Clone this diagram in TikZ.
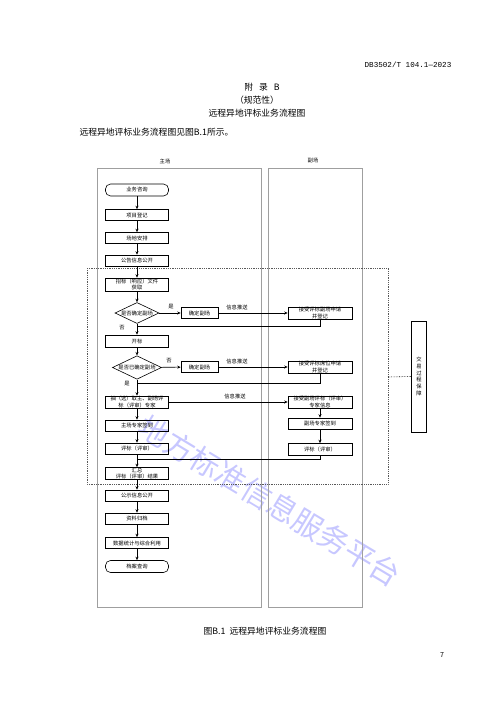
\documentclass[tikz,border=0pt]{standalone}
\usepackage{fontspec}
\newfontfamily\cjk{Noto Sans CJK SC}
\newfontfamily\codefont{Liberation Mono}
\usetikzlibrary{shapes.geometric,arrows.meta}

\newcommand{\boxfont}{\cjk\fontsize{5.3}{6.2}\selectfont}
\newcommand{\headfont}{\cjk\fontsize{8.8}{10}\selectfont}

\begin{document}
\begin{tikzpicture}[x=1pt,y=-1pt,font=\boxfont,>={Stealth[length=3.5pt,width=3pt]},
  proc/.style={draw,line width=0.6pt,minimum width=63pt,minimum height=11pt,inner sep=0pt,align=center},
  term/.style={proc,rounded corners=5pt,minimum height=12pt},
  ask/.style={draw,line width=0.6pt,diamond,aspect=2,inner sep=0pt,minimum width=44pt,minimum height=21pt},
  side/.style={proc,minimum width=64pt,minimum height=12pt},
  pick/.style={proc,minimum width=37pt},
  lane/.style={draw=gray!75,line width=0.8pt},
  flow/.style={->,line width=0.6pt},
  back/.style={line width=0.6pt}]

\useasboundingbox (0,0) rectangle (500,707);

% watermark
\node[rotate=-31,text=blue!22,font=\cjk\fontsize{30}{32}\selectfont] (mark) at (270,501) {地方标准信息服务平台};

% page text
\node[font=\codefont\fontsize{7.6}{9}\selectfont] (code) at (408,65) {DB3502/T 104.1—2023};
\node[font=\headfont] (annex) at (262,87) {附\hspace{6pt}录\hspace{6pt}B};
\node[font=\headfont] (kind) at (257,100) {（规范性）};
\node[font=\headfont] (title) at (257,113) {远程异地评标业务流程图};
\node[font=\headfont,anchor=west] (intro) at (76,132) {远程异地评标业务流程图见图B.1所示。};
\node[font=\headfont] (caption) at (265,631) {图B.1\hspace{4pt}远程异地评标业务流程图};
\node[font=\cjk\fontsize{7}{8}\selectfont] (page) at (442,655) {7};

% lanes
\node (mainlbl) at (165,161) {主场};
\node (sublbl) at (313,161) {副场};
\draw[lane] (97,168) rectangle (261,607);
\draw[lane] (268,168) rectangle (362,607);

% guarded zone
\draw[densely dotted,line width=0.8pt,gray!70!black] (87,268) rectangle (388,484);
\coordinate (zone) at (388,377);
\node[draw,line width=0.6pt,minimum width=15pt,minimum height=111pt,inner sep=0pt,
  align=center,font=\cjk\fontsize{5.3}{6.7}\selectfont] (guard) at (419,376.5) {交\\易\\过\\程\\保\\障};
\draw[densely dotted,line width=0.6pt] (zone) -- (guard.west);

% main lane
\node[term] (n1) at (137,190) {业务咨询};
\node[proc] (n2) at (137,215) {项目登记};
\node[proc] (n3) at (137,238) {场地安排};
\node[proc] (n4) at (137,260.5) {公告信息公开};
\node[proc,minimum height=13pt] (n5) at (137,284.5) {招标（响应）文件\\获取};
\node[ask] (d1) at (137,313) {是否确定副场};
\node[pick] (b1) at (199.5,313) {确定副场};
\node[proc,minimum height=12pt] (n6) at (137,341) {开标};
\node[ask,minimum width=49pt,minimum height=19pt] (d2) at (137,367.5) {是否已确定副场};
\node[pick] (b2) at (199.5,367) {确定副场};
\node[proc,minimum height=12pt] (n7) at (137,402) {抽（选）取主、副场评\\标（评审）专家};
\node[proc] (n8) at (137,425.5) {主场专家签到};
\node[proc] (n9) at (137,448.5) {评标（评审）};
\node[proc,minimum height=12pt] (n10) at (137,473.5) {汇总\\评标（评审）结果};
\node[proc] (n11) at (137,495.5) {公示信息公开};
\node[proc] (n12) at (137,518.5) {资料归档};
\node[proc] (n13) at (137,543) {数据统计与综合利用};
\node[term] (n14) at (137,566.5) {档案查询};

% sub lane
\node[side] (s1) at (320,313) {接受评标副场申请\\并登记};
\node[side] (s2) at (320,367) {接受评标席位申请\\并登记};
\node[side] (s3) at (320,402) {接受副场评标（评审）\\专家信息};
\node[proc,minimum width=64pt] (s4) at (320,423.5) {副场专家签到};
\node[proc,minimum width=64pt,minimum height=12pt] (s5) at (320,449.5) {评标（评审）};

\coordinate (j1) at (137,326);
\coordinate (j2) at (137,383);
\coordinate (j3) at (137,459);

% connectors
\foreach \a/\b in {n1/n2,n2/n3,n3/n4,n4/n5,n5/d1,d1/n6,n6/d2,d2/n7,n7/n8,n8/n9,n9/n10,n10/n11,n11/n12,n12/n13,n13/n14,s3/s4,s4/s5}
  \draw[flow] (\a) -- (\b);
\draw[flow] (d1) -- (b1);
\draw[flow] (b1) -- (s1);
\draw[flow] (d2) -- (b2);
\draw[flow] (b2) -- (s2);
\draw[flow] (n7.east) -- (n7.east -| s3.west);
\draw[back] (s1.south) |- (j1);
\draw[back] (s2.south) |- (j2);
\draw[back] (s5.south) |- (j3);

% labels
\node (yes1) at (171,307) {是};
\node (no1) at (122,328) {否};
\node (no2) at (169,361) {否};
\node (yes2) at (127,384) {是};
\node (push1) at (237,307) {信息推送};
\node (push2) at (237,361) {信息推送};
\node (push3) at (235,396) {信息推送};

\end{tikzpicture}
\end{document}
